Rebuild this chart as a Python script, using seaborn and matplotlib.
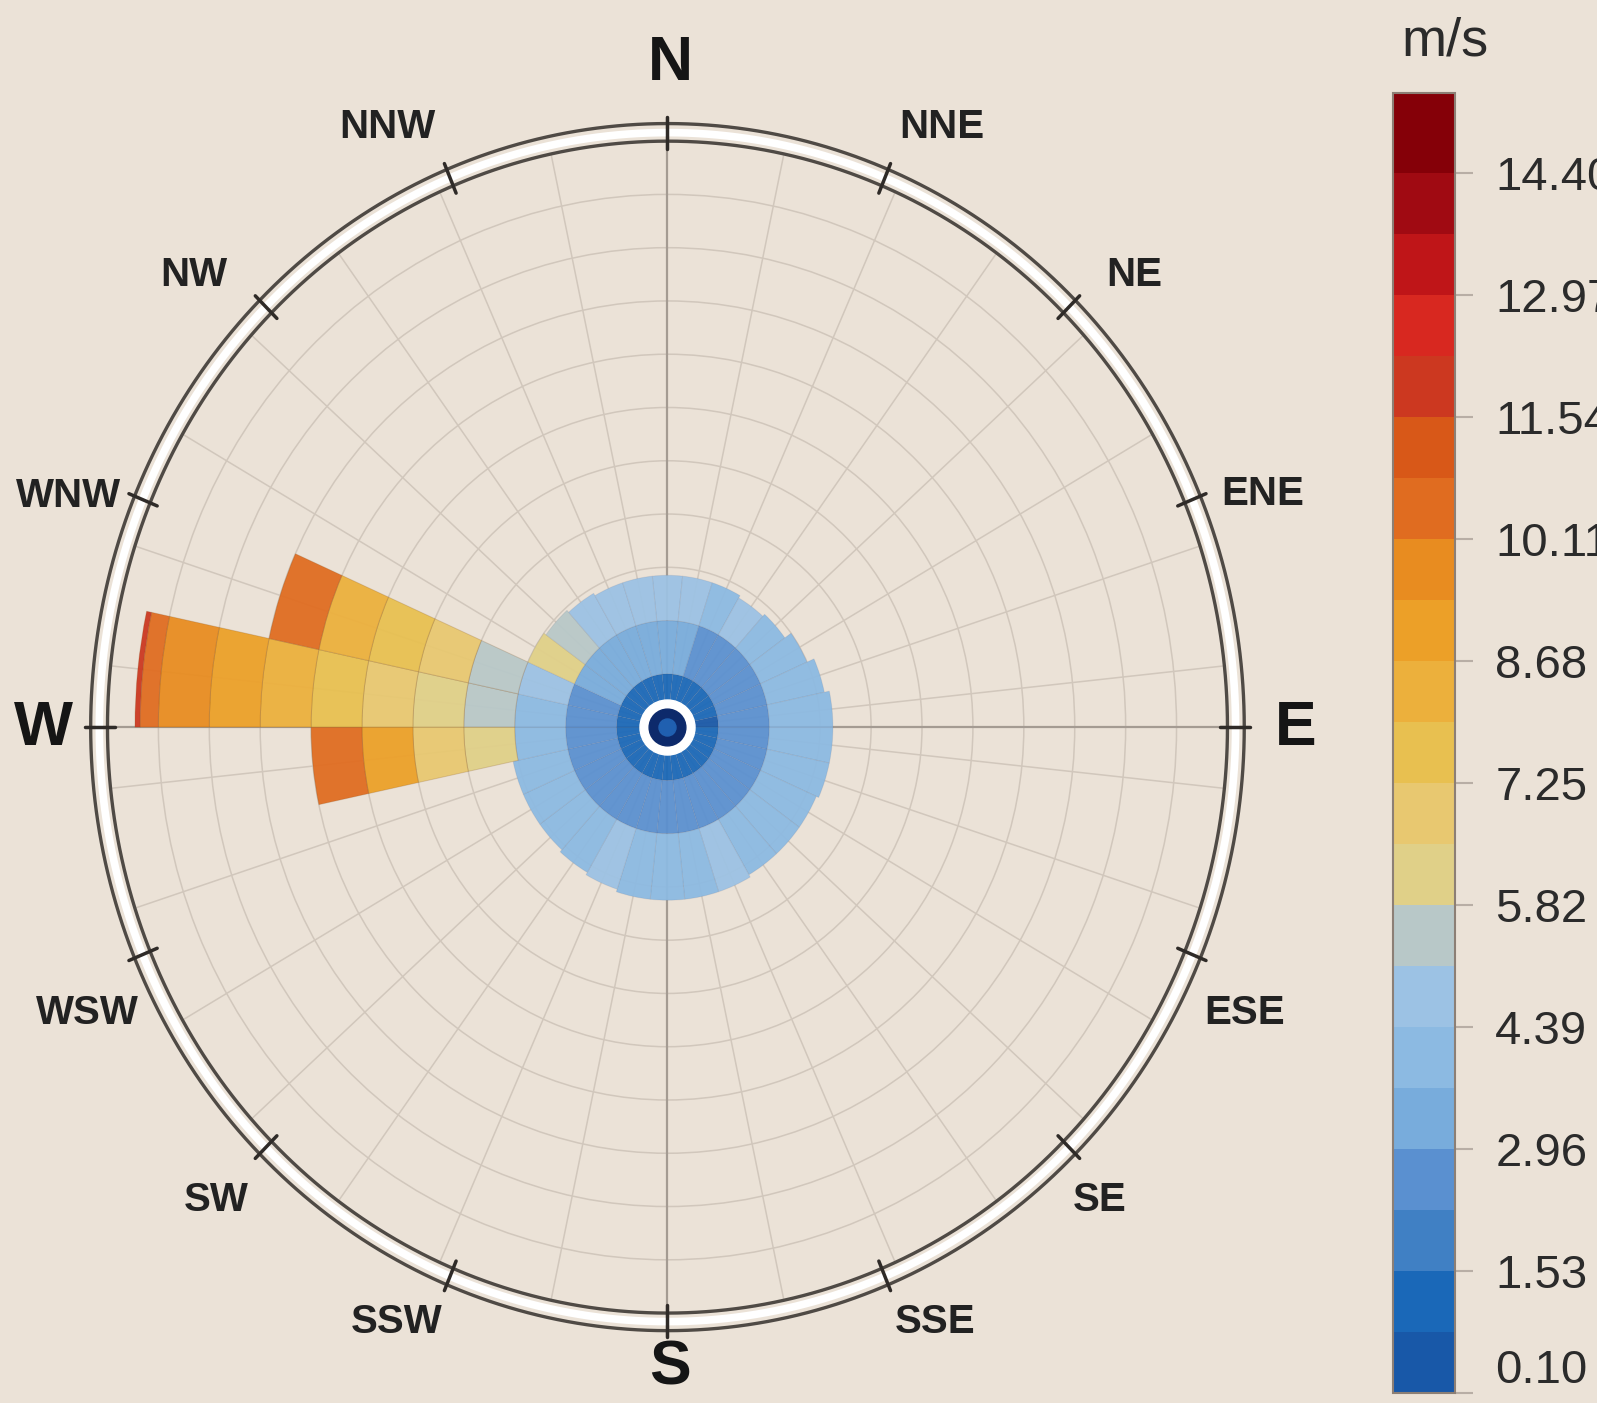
import numpy as np
import matplotlib
matplotlib.use("Agg")
import matplotlib.pyplot as plt
from matplotlib.colors import ListedColormap, BoundaryNorm
from matplotlib.cm import ScalarMappable
from matplotlib.ticker import NullLocator
import seaborn as sns

sns.set_theme(style="white")
plt.rcParams['font.family'] = ['Liberation Sans', 'DejaVu Sans']

BG = "#ebe2d7"
W_PX, H_PX = 1597, 1403

# --- colour scale (m/s) ---
band_edges = [0.10, 0.815, 1.53, 2.245, 2.96, 3.675, 4.39, 5.105, 5.82, 6.535,
              7.25, 7.965, 8.68, 9.395, 10.11, 10.825, 11.54, 12.255, 12.97,
              13.685, 14.40, 15.34]
band_colors = ['#1858a8', '#1a68b8', '#4080c4', '#5a90d0', '#78acdc', '#8cbae2',
               '#9cc2e4', '#b8c8c8', '#e0d088', '#e8c870', '#e8c050', '#ecb03c',
               '#eca028', '#e88c20', '#e06c20', '#d85818', '#cc3820', '#d82820',
               '#bf1518', '#a00a12', '#850008']
tick_values = [0.10, 1.53, 2.96, 4.39, 5.82, 7.25, 8.68, 10.11, 11.54, 12.97, 14.40]

# --- calm core: 30 sectors of 12 degrees ---
sector_deg = [0, 12, 24, 36, 48, 60, 72, 84, 96, 108, 120, 132, 144, 156, 168,
              180, 192, 204, 216, 228, 240, 252, 264, 276, 288, 300, 312, 324, 336, 348]
core_speed = [1.2, 1.2, 1.2, 1.2, 1.2, 1.2, 1.2, 0.5, 1.2, 1.2, 1.2, 1.2, 1.2, 1.2, 1.2,
              1.2, 1.2, 1.2, 1.2, 1.2, 1.2, 1.2, 1.2, 1.2, 1.2, 1.2, 1.2, 1.2, 1.2, 1.2]
mid_speed = [3.3, 3.3, 2.6, 2.6, 2.6, 2.6, 2.6, 2.6, 2.6, 2.6, 2.6, 2.6, 2.6, 2.6, 2.6,
             2.6, 2.6, 2.6, 2.6, 2.6, 2.6, 2.6, 2.6, 2.6, 2.6, 3.3, 3.3, 3.3, 3.3, 3.3]
outer_speed = [4.7, 4.7, 4.0, 4.7, 4.0, 4.0, 4.0, 4.0, 4.0, 4.0, 4.0, 4.0, 4.0, 4.7, 4.0,
               4.0, 4.0, 4.7, 4.0, 4.0, 4.0, 4.0, 4.0, 4.0, 4.7, 6.2, 5.3, 4.7, 4.7, 4.7]
blob_edge = [2.85, 2.85, 2.85, 2.8, 2.85, 3.0, 3.15, 3.25, 3.25, 3.25, 3.2, 3.2, 3.2, 3.25, 3.25,
             3.25, 3.25, 3.2, 3.15, 3.1, 3.1, 3.1, 3.0, 3.0, 3.0, 3.0, 2.95, 2.9, 2.85, 2.85]

# --- westerly gust sectors: outer radius of each ring and its speed ---
gust_deg = [264, 276, 288]
gust_264_end = [4, 5, 6, 7]
gust_264_speed = [6.0, 6.9, 9.0, 10.5]
gust_276_end = [4, 5, 6, 7, 8, 9, 10, 10.36, 10.46]
gust_276_speed = [5.5, 6.2, 6.9, 7.6, 8.3, 9.0, 9.8, 10.5, 12.2]
gust_288_end = [4, 5, 6, 7, 8]
gust_288_speed = [5.5, 6.9, 7.6, 8.3, 10.5]

compass_labels = ['N', 'NNE', 'NE', 'ENE', 'E', 'ESE', 'SE', 'SSE',
                  'S', 'SSW', 'SW', 'WSW', 'W', 'WNW', 'NW', 'NNW']
compass_deg = [0, 22.5, 45, 67.5, 90, 112.5, 135, 157.5,
               180, 202.5, 225, 247.5, 270, 292.5, 315, 337.5]
# label anchor points in picture pixels (layout)
label_xy = [(670, 63), (942, 127), (1134, 275), (1263, 494), (1296, 729),
            (1245, 1013), (1100, 1200), (935, 1322), (670, 1368), (397, 1322),
            (216, 1200), (87, 1013), (43, 729), (69, 496), (194, 275), (387, 127)]

cmap = ListedColormap(band_colors)
norm = BoundaryNorm(band_edges, cmap.N)

fig = plt.figure(figsize=(W_PX / 100, H_PX / 100), dpi=100, facecolor=BG)
ax = fig.add_axes([0.0673, 0.0641, 0.7013, 0.8353], projection='polar')
ax.set_aspect('auto')
ax.set_facecolor(BG)
ax.set_theta_zero_location('N')
ax.set_theta_direction(-1)
ax.set_ylim(0, 11)
ax.set_axisbelow(True)

width = np.deg2rad(12)


def stack(deg, ends, speeds, start=0.0, edge=(0.3, 0.3, 0.4, 0.10)):
    bottom = start
    for end, sp in zip(ends, speeds):
        face = cmap(norm(sp))[:3] + (0.94,)
        ax.bar(np.deg2rad(deg), end - bottom, width=width, bottom=bottom,
               color=face, edgecolor=edge, linewidth=0.7, zorder=2)
        bottom = end


for d, c, m, o, e in zip(sector_deg, core_speed, mid_speed, outer_speed, blob_edge):
    stack(d, [1, 2, e], [c, m, o])

gust_edge = (0.5, 0.3, 0.1, 0.22)
stack(gust_deg[0], gust_264_end, gust_264_speed, start=3.0, edge=gust_edge)
stack(gust_deg[1], gust_276_end, gust_276_speed, start=3.0, edge=gust_edge)
stack(gust_deg[2], gust_288_end, gust_288_speed, start=3.0, edge=gust_edge)

# grid
ax.set_xticks(np.deg2rad(sector_deg))
ax.set_xticklabels([])
ax.set_yticks(range(1, 11))
ax.set_yticklabels([])
ax.tick_params(length=0)
ax.grid(True, color='#d1c7bc', linewidth=1.1)
ax.spines['polar'].set_visible(False)

for d in [0, 90, 180, 270]:
    ax.plot([np.deg2rad(d)] * 2, [0, 11.45], color='#a49b92', lw=1.6,
            zorder=1.5, clip_on=False)

# double outer ring with compass ticks
ring = np.linspace(0, 2 * np.pi, 721)
ax.plot(ring, np.full_like(ring, 11.16), color='white', lw=5.5, zorder=4, clip_on=False)
ax.plot(ring, np.full_like(ring, 11.0), color='#4f4a45', lw=2.4, zorder=5, clip_on=False)
ax.plot(ring, np.full_like(ring, 11.33), color='#4f4a45', lw=2.4, zorder=5, clip_on=False)
for d in compass_deg:
    ax.plot([np.deg2rad(d)] * 2, [10.85, 11.45], color='#2f2b28', lw=2.5,
            zorder=6, clip_on=False)

# centre marker
ax.scatter([0], [0], s=1570, c='white', zorder=7)
ax.scatter([0], [0], s=700, c='#0d2a6b', zorder=8)
ax.scatter([0], [0], s=150, c='#2060b0', zorder=9)

for lab, (px, py) in zip(compass_labels, label_xy):
    big = len(lab) == 1
    fig.text(px / W_PX, 1 - py / H_PX, lab, ha='center', va='center',
             fontsize=45 if big else 29, fontweight='bold',
             color='#151515' if big else '#222222')

# colour bar
cax = fig.add_axes([1393 / W_PX, 10 / H_PX, 62 / W_PX, 1300 / H_PX])
cb = fig.colorbar(ScalarMappable(norm=norm, cmap=cmap), cax=cax,
                  ticks=tick_values, spacing='proportional')
cb.ax.set_yticklabels([f"{v:.2f}" for v in tick_values])
cax.yaxis.set_minor_locator(NullLocator())
cb.outline.set_edgecolor('#8c7f75')
cb.outline.set_linewidth(1.5)
cax.tick_params(which='major', length=13, width=1.5, color='#b8aea5', labelsize=34,
                pad=16, labelcolor='#2b2b2b')
cax.tick_params(which='minor', length=0)
cax.get_yticklabels()[0].set_va('bottom')
fig.text(1445 / W_PX, 1 - 42 / H_PX, 'm/s', ha='center', va='center',
         fontsize=39, color='#2b2b2b')

fig.savefig('out.png', dpi=100, facecolor=BG)
